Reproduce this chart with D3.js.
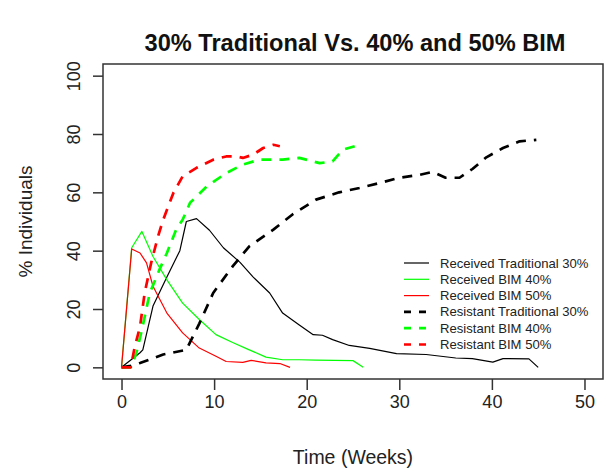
<!DOCTYPE html>
<html>
<head>
<meta charset="utf-8">
<script src="https://cdn.jsdelivr.net/npm/d3@7"></script>
<style>
  body { margin: 0; background: #fff; }
  text { font-family: "Liberation Sans", Arial, sans-serif; }
</style>
</head>
<body>
<script>
// values (weeks, % individuals)
var recTradX = [0, 1, 2, 2.3, 3.4, 4.9, 6.3, 7, 8.1, 9.5, 11, 12.8, 14.2, 16, 17.4, 19.2, 20.7, 21.7, 22.8, 24.6, 26.8, 29.7, 32.9, 36.1, 37.9, 40.1, 41.2, 44, 45];
var recTradY = [0, 2.5, 5, 6, 21, 31, 40, 50, 51, 47, 41, 36, 31, 25.5, 18.6, 14.5, 11.2, 11, 9.5, 7.5, 6.5, 4.7, 4.4, 3.2, 3, 1.8, 3, 2.9, 0];

var recBim40X = [0, 1.1, 2.2, 3.4, 4.9, 6.6, 8.4, 10.2, 12, 13.8, 15.6, 17.4, 19.2, 21, 23, 25, 26.1];
var recBim40Y = [0, 41, 46.6, 38, 30, 22, 16.4, 11.2, 8.5, 6, 3.5, 2.6, 2.6, 2.5, 2.4, 2.3, 0];

var recBim50X = [0, 1.1, 2, 2.7, 3.4, 4.9, 6.6, 8.4, 10.2, 11.3, 13.1, 14, 15.6, 17.1, 18.2];
var recBim50Y = [0, 40.6, 39.2, 35.8, 27.8, 18.6, 11.8, 6.6, 3.8, 2, 1.7, 2.4, 1.5, 1.3, 0];

var resTradX = [0, 1, 2, 4.5, 7, 8.4, 9.9, 12, 13.8, 16.4, 18.5, 21, 23.5, 25.7, 27.9, 30, 32.2, 33.6, 35, 36.5, 37.9, 39.4, 41.2, 43, 44.8];
var resTradY = [0, 0.5, 1.5, 4.4, 6, 15, 25.5, 34.6, 41.5, 47.2, 52.5, 57.5, 60, 61.5, 63.2, 65, 66, 67, 65, 65, 68, 72, 75.2, 77.5, 78];

var resBim40X = [0, 1, 1.6, 2.2, 3.05, 4.1, 4.9, 5.9, 6.6, 7.4, 9.2, 11.3, 13.1, 14.9, 17.4, 19.2, 21.4, 22.8, 23.9, 25.7, 26];
var resBim40Y = [0, 0, 4.9, 12.9, 25.5, 33.5, 39.2, 47.2, 50.6, 56.4, 62, 66.6, 69.5, 71.2, 71.2, 71.8, 70, 70.6, 74.6, 76.3, 76.3];

var resBim50X = [0, 1, 1.4, 2, 2.5, 3.2, 3.95, 4.5, 5.6, 6.6, 8.1, 9.9, 11.3, 12.4, 13.1, 14.2, 15.3, 16.4, 17.1];
var resBim50Y = [0, 0, 6.6, 14, 25.5, 35.8, 45, 50.6, 59.8, 65.5, 68.4, 71.2, 72.3, 72.3, 71.8, 72.9, 75.2, 76.3, 75.8];

var seriesNames = ["Received Traditional 30%", "Received BIM 40%", "Received BIM 50%",
                   "Resistant Traditional 30%", "Resistant BIM 40%", "Resistant BIM 50%"];
var xTicks = [0, 10, 20, 30, 40, 50];
var yTicks = [0, 20, 40, 60, 80, 100];

var W = 607, H = 476;
// plot box (R style, axes extended 4%)
var box = { left: 103, right: 603, top: 64, bottom: 379 };

var x = d3.scaleLinear().domain([-2, 52]).range([box.left, box.right]);
var y = d3.scaleLinear().domain([-4, 104]).range([box.bottom, box.top]);

var svg = d3.select("body")
    .append("svg")
    .attr("width", W)
    .attr("height", H);

var series = [
    { name: seriesNames[0], xs: recTradX, ys: recTradY, color: "#000000", dashed: false },
    { name: seriesNames[1], xs: recBim40X, ys: recBim40Y, color: "#00ff00", dashed: false },
    { name: seriesNames[2], xs: recBim50X, ys: recBim50Y, color: "#ff0000", dashed: false },
    { name: seriesNames[3], xs: resTradX, ys: resTradY, color: "#000000", dashed: true },
    { name: seriesNames[4], xs: resBim40X, ys: resBim40Y, color: "#00ff00", dashed: true },
    { name: seriesNames[5], xs: resBim50X, ys: resBim50Y, color: "#ff0000", dashed: true }
];

var line = d3.line()
    .x(d => x(d[0]))
    .y(d => y(d[1]));

function styleLine(sel, s) {
    sel.attr("fill", "none")
        .attr("stroke", s.color)
        .attr("stroke-width", s.dashed ? 2.7 : 1.2)
        .attr("stroke-dasharray", s.dashed ? "10,8" : null)
        .attr("stroke-linejoin", "round");
}

// the curves
series.forEach(s => {
    var pts = s.xs.map((v, i) => [v, s.ys[i]]);
    svg.append("path")
        .datum(pts)
        .attr("d", line)
        .call(styleLine, s);
});

// box
svg.append("rect")
    .attr("x", box.left)
    .attr("y", box.top)
    .attr("width", box.right - box.left)
    .attr("height", box.bottom - box.top)
    .attr("fill", "none")
    .attr("stroke", "#333")
    .attr("stroke-width", 1.5);

// axes
var xAxis = d3.axisBottom(x).tickValues(xTicks).tickSize(11).tickPadding(5).tickFormat(d3.format("d"));
var gx = svg.append("g")
    .attr("transform", "translate(0," + box.bottom + ")")
    .call(xAxis);
gx.select(".domain").remove();
gx.selectAll("line").attr("stroke", "#333").attr("stroke-width", 1.5);
gx.selectAll("text")
    .attr("font-size", 18)
    .attr("fill", "#222")
    .attr("font-family", "Liberation Sans, Arial, sans-serif");

var yAxis = d3.axisLeft(y).tickValues(yTicks).tickSize(10).tickFormat(d3.format("d"));
var gy = svg.append("g")
    .attr("transform", "translate(" + box.left + ",0)")
    .call(yAxis);
gy.select(".domain").remove();
gy.selectAll("line").attr("stroke", "#333").attr("stroke-width", 1.5);
// R draws y tick labels parallel to the axis
gy.selectAll("text")
    .attr("x", null).attr("dy", null)
    .attr("text-anchor", "middle")
    .attr("transform", "translate(-23,0) rotate(-90)")
    .attr("font-size", 18)
    .attr("fill", "#222")
    .attr("font-family", "Liberation Sans, Arial, sans-serif");

// title + axis titles
svg.append("text")
    .attr("x", (box.left + box.right) / 2 + 2)
    .attr("y", 51)
    .attr("text-anchor", "middle")
    .attr("font-size", 23.6)
    .attr("font-weight", "bold")
    .attr("fill", "#111")
    .text("30% Traditional Vs. 40% and 50% BIM");

svg.append("text")
    .attr("x", (box.left + box.right) / 2)
    .attr("y", 464)
    .attr("text-anchor", "middle")
    .attr("font-size", 19.5)
    .attr("fill", "#222")
    .text("Time (Weeks)");

svg.append("text")
    .attr("transform", "translate(32," + ((box.top + box.bottom) / 2) + ") rotate(-90)")
    .attr("text-anchor", "middle")
    .attr("font-size", 19)
    .attr("fill", "#222")
    .text("% Individuals");

// legend, no frame
var legend = svg.append("g").attr("transform", "translate(404,263)");
series.forEach((s, i) => {
    var row = legend.append("g").attr("transform", "translate(0," + (i * 16.3) + ")");
    row.append("line")
        .attr("x1", 0).attr("x2", 25)
        .attr("y1", 0).attr("y2", 0)
        .call(styleLine, s)
        .attr("stroke-dasharray", s.dashed ? "7,8" : null);
    row.append("text")
        .attr("x", 36)
        .attr("y", 4.5)
        .attr("font-size", 13.1)
        .attr("fill", "#222")
        .text(s.name);
});
</script>
</body>
</html>
